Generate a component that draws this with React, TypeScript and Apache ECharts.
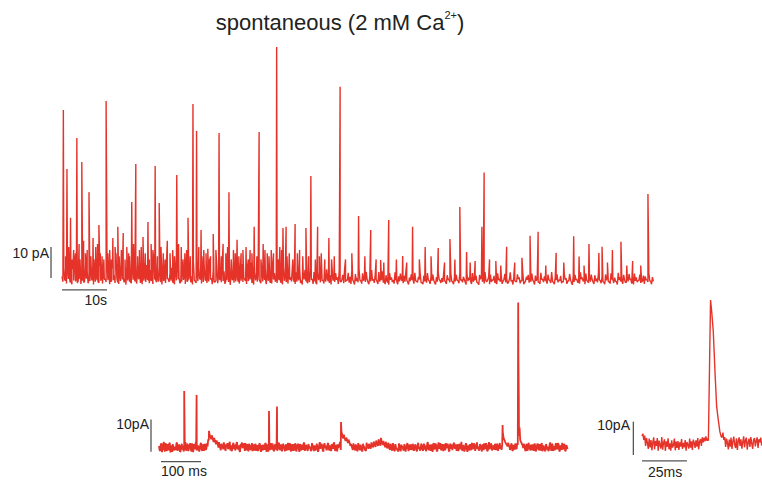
import React, { useEffect, useRef } from "react";
import * as echarts from "echarts";

// ---------- top trace: 0..131.3 s (pA). High samples at i*0.4 s, low samples at i*0.4+0.2 s ----------
const TOP_DT = 0.4;
const topNoise = [
  0.5,3.2,-0.8,4.1,1.2,-1.1,2.8,5.3,0.2,-0.9,3.6,1.4,-1.3,4.8,2.1,0.0,5.6,-0.7,2.4,1.1,
  -1.2,3.9,0.6,2.7,-0.4,6.1,1.8,-1.0,3.1,0.9,4.4,-1.4,2.2,5.0,0.3,-0.6,3.4,1.6,-1.2,4.6,
  2.0,-0.3,5.2,0.8,-1.1,3.0,1.9,4.2,-0.9,2.6,0.4,5.8,-0.5,1.3,3.7,-1.3,2.9,0.7,4.9,-0.2,
  1.5,3.3,-1.0,2.5,6.0,0.1,-1.2,3.8,1.0,4.3,-0.7,2.3,0.5,5.4,-1.1,1.7,3.5,-0.4,2.8,4.0,
  -0.8,1.2,5.1,0.0,2.6,-1.3,3.9,1.4,-0.6,4.7,2.2,-1.0,3.0,0.6,5.5,-0.3,1.9,3.2,-1.2,2.4,
  4.5,0.2,-0.9,3.6,1.1,5.0,-0.5,2.0,0.8,4.1,-1.1,2.7,1.3,-0.2,3.4,0.4,-1.3,4.2,1.6,-0.6,
  2.9,0.9,-1.0,3.7,1.2,-0.4,2.5,0.3,4.0,-1.2,1.8,0.6,3.1,-0.8,1.4,2.6,-1.1,0.7,3.5,-0.3,
  1.9,-1.4,2.2,0.5,3.3,-0.7,1.1,2.8,-1.0,0.9,3.6,-0.5,1.6,0.2,2.4,-1.3,1.0,3.0,-0.6,1.7,
  0.4,2.3,-1.2,1.3,0.0,2.9,-0.9,1.5,0.6,2.0,-1.4,0.8,2.6,-0.4,1.2,-1.1,1.9,0.3,2.2,-0.8,
  0.9,-1.5,1.6,0.2,-0.7,1.8,-1.2,0.5,1.4,-0.9,0.7,1.9,-1.3,0.1,1.2,-0.6,1.7,-1.1,0.4,1.3,
  -1.4,0.8,-0.3,1.6,-1.0,0.6,1.1,-1.5,0.3,1.8,-0.8,0.0,1.4,-1.2,0.9,-0.4,1.5,-1.3,0.2,1.0,
  -0.9,1.7,-0.5,0.4,-1.4,1.2,0.1,-1.1,1.6,-0.3,0.8,-1.5,1.0,0.5,-0.8,1.9,-1.2,0.3,1.1,-0.6,
  0.7,-1.3,1.5,-0.2,0.9,-1.0,1.3,0.0,-1.4,1.8,-0.7,0.6,-1.1,1.2,0.2,-0.9,1.6,-1.5,0.4,1.0,
  -0.5,1.4,-1.2,0.8,0.1,-1.3,1.7,-0.4,0.5,-1.0,1.1,-0.8,1.9,-1.4,0.3,1.2,-0.6,0.7,-1.1,1.5,
  0.0,-0.9,1.3,-1.5,0.6,1.0,-0.3,-1.2,1.8,0.2,-0.7,1.4,-1.0,0.5,1.1,-1.3,0.9,-0.2,1.6,-0.8,
  0.4,-1.4,1.2,0.7,-1.1,1.5,-0.5,0.1,-1.2,1.7,0.3,-0.8,1.0,-1.5,0.6,1.3,-0.4,-1.0,1.4,0.2,
  -0.9,1.1,-1.3,0.8,0.5,-0.6,1.6,-1.1,0.3,
];
const topLo = [
  -1.2,-0.6,-1.8,-0.3,-1.4,-2.0,-0.8,-1.1,-1.6,-0.4,-1.9,-0.9,-1.3,-0.2,-1.7,-1.0,-0.5,-2.1,-1.2,-0.7,
  -1.5,-0.9,-1.8,-0.4,-1.3,-0.6,-2.0,-1.1,-0.7,-1.6,-0.3,-1.9,-1.0,-0.5,-1.4,-2.2,-0.8,-1.2,-1.7,-0.6,
  -1.1,-1.8,-0.4,-1.5,-2.0,-0.9,-1.3,-0.6,-1.7,-1.0,-1.9,-0.5,-1.4,-1.2,-0.7,-2.1,-1.0,-1.6,-0.3,-1.3,
  -0.9,-1.5,-2.0,-0.8,-0.4,-1.7,-1.1,-0.6,-1.9,-1.2,-0.5,-1.4,-2.1,-0.7,-1.6,-1.0,-0.3,-1.8,-1.3,-0.6,
  -1.6,-1.1,-0.5,-2.0,-1.2,-0.8,-1.7,-0.4,-1.4,-1.0,-1.9,-0.6,-1.3,-2.2,-0.7,-1.5,-1.1,-0.4,-1.8,-0.9,
  -1.3,-0.6,-1.9,-1.0,-0.5,-1.6,-2.1,-0.8,-1.2,-0.4,-1.7,-1.1,-0.6,-2.0,-0.9,-1.4,-1.8,-0.5,-1.2,-1.6,
  -0.7,-1.5,-2.0,-0.9,-1.3,-1.8,-0.6,-1.1,-0.4,-1.9,-1.2,-0.8,-1.6,-2.1,-0.5,-1.0,-1.7,-1.3,-0.6,-1.9,
  -1.1,-2.0,-0.7,-1.4,-0.9,-1.8,-1.2,-0.5,-1.6,-2.1,-0.8,-1.3,-0.6,-1.9,-1.0,-0.4,-1.7,-1.2,-0.8,-1.5,
  -1.9,-0.6,-2.1,-1.0,-1.4,-0.7,-1.8,-0.9,-1.3,-0.5,-2.0,-1.1,-0.8,-1.6,-0.4,-1.9,-1.2,-0.7,-1.5,-2.0,
  -1.0,-2.2,-0.6,-1.3,-1.8,-0.8,-2.0,-1.1,-0.5,-1.7,-1.2,-0.7,-2.1,-1.0,-0.6,-1.8,-0.9,-1.4,-0.5,-1.6,
  -2.0,-1.1,-1.5,-0.6,-1.9,-0.9,-0.7,-2.1,-1.2,-0.5,-1.6,-1.3,-0.8,-1.9,-0.6,-1.4,-1.0,-2.0,-1.1,-0.7,
  -1.7,-0.8,-1.4,-0.5,-2.1,-1.0,-0.6,-1.9,-1.2,-0.7,-1.5,-2.2,-0.4,-1.1,-1.8,-0.9,-0.6,-2.0,-1.3,-0.8,
  -1.6,-2.0,-0.7,-1.2,-1.9,-0.5,-1.4,-1.8,-0.6,-1.1,-2.1,-0.8,-1.3,-0.4,-1.7,-0.9,-2.0,-1.0,-0.6,-1.5,
  -1.2,-0.6,-2.1,-0.9,-1.4,-1.9,-0.5,-1.3,-0.8,-1.8,-0.6,-1.6,-1.1,-2.0,-0.7,-1.4,-0.9,-1.7,-1.2,-0.5,
  -1.9,-1.0,-0.6,-2.2,-1.3,-0.7,-1.5,-1.8,-0.4,-1.1,-2.0,-0.8,-1.6,-1.2,-0.5,-1.9,-1.0,-1.4,-0.6,-1.7,
  -1.1,-2.0,-0.8,-1.3,-1.8,-0.5,-1.6,-1.0,-2.1,-0.7,-1.2,-1.9,-0.6,-1.4,-1.1,-0.5,-1.8,-2.0,-0.9,-1.3,
  -0.7,-1.6,-1.0,-1.9,-0.6,-1.3,-0.8,-2.0,-1.1,
];
// [time s, amplitude pA]
const topSpikes = [
  [0.3,54.2],[1.1,35.2],[1.9,19.4],[3.3,45.2],[4.4,37.4],[6.0,27.7],[6.9,12.9],[8.2,17.1],
  [9.8,57.1],[11.3,12.9],[12.4,16.5],[13.6,14.5],[15.5,24.5],[16.4,36.8],[18.0,13.2],[19.1,18.1],
  [20.7,36.1],[21.6,24.2],[25.5,33.2],[28.0,19.4],[29.1,56.1],[29.9,47.4],[30.9,15.5],[32.4,9.4],
  [33.6,14.2],[34.9,46.8],[37.1,27.7],[38.9,12.3],[42.7,16.5],[43.8,47.1],[47.7,74.5],[49.1,16.1],
  [49.8,16.5],[51.8,17.4],[54.2,16.1],[55.3,32.9],[56.8,16.5],[59.3,12.9],[61.8,61.7],[65.9,20.0],
  [68.6,15.5],[70.8,5.8],[72.6,18.7],[75.7,7.1],[77.9,16.5],[80.7,10.0],[83.6,9.7],[86.2,12.6],
  [88.4,22.9],[89.9,8.4],[91.8,5.5],[93.3,16.5],[93.8,34.0],[96.4,5.5],[98.8,10.1],[102.2,6.5],
  [104.0,13.6],[105.8,14.9],[109.8,8.1],[113.7,13.5],[114.9,6.9],[117.1,11.0],[119.3,8.1],[120.0,10.1],
  [122.3,9.0],[124.2,11.7],[126.8,5.5],[130.2,27.1],
];
const topSmallEvents = [
  [2.6,9],[3.8,11],[5.2,8],[7.5,10],[8.9,7],[10.6,9],[12.0,8],[14.4,10],[15.0,7],[17.2,9],
  [19.8,11],[22.5,8],[23.4,12],[24.6,9],[26.5,10],[27.3,8],[31.5,9],[33.0,7],[35.8,11],[36.4,8],
  [38.1,9],[39.8,8],[40.9,10],[41.8,9],[44.7,11],[45.6,8],[46.5,9],[48.4,10],[50.5,8],[52.8,9],
  [53.5,7],[57.6,8],[58.4,6],[60.5,7],[63.0,6],[64.4,8],[67.3,7],[69.8,6],[71.5,5],[74.3,6],
  [76.6,5],[79.4,6],[82.0,7],[85.0,5],[87.3,6],[90.7,5],[95.0,6],[97.5,4],[100.6,5],[107.5,4],
  [111.5,5],[116.0,4],[121.2,5],[125.5,4],[128.6,4],
  [0.8,7],[1.5,10],[2.2,6],[3.0,8],[4.0,6],[4.8,12],[5.6,9],[6.4,7],[7.1,6],[7.9,11],
  [8.5,8],[9.3,6],[10.2,8],[11.0,6],[11.8,10],[12.7,7],[13.2,9],[14.0,6],[14.8,8],[15.9,11],
  [16.8,7],[17.6,10],[18.5,8],[19.4,6],[20.2,9],[21.2,7],[22.0,10],[22.9,6],[24.0,8],[25.0,7],
  [25.9,11],[26.9,6],[27.7,9],[28.5,7],[30.4,10],[31.1,7],[32.0,8],[32.8,6],[34.2,9],[35.4,7],
  [36.8,10],[37.6,6],[38.5,8],[39.3,7],[40.2,9],[41.4,6],[42.2,8],[43.3,7],[44.2,6],[45.1,9],
  [46.0,7],[47.0,8],[48.0,6],[48.8,9],[50.0,7],[51.3,6],[52.3,8],[54.8,7],[56.3,6],[57.2,7],
  [59.9,6],
];

// ---------- middle trace: 0..1021.5 ms (pA). Samples at i*3 ms and i*3+1.5 ms ----------
const MID_DT = 3;
const midNoise = [
  0.3,-1.2,1.1,-0.5,1.6,-1.4,0.2,0.9,-1.0,1.3,-0.3,-1.5,0.8,0.1,-0.9,1.4,-0.6,0.5,-1.3,1.0,
  0.4,-0.8,1.5,-1.1,0.7,-0.2,1.2,-1.4,0.3,0.9,-0.7,1.7,-1.0,0.6,-0.4,1.3,-1.2,0.8,0.0,-0.9,
  1.1,2.4,4.2,3.1,3.6,2.2,2.8,1.6,2.0,0.9,1.5,-0.3,1.0,0.2,1.4,-0.6,0.8,1.2,-0.4,1.6,
  0.5,-0.9,1.3,0.7,-0.2,1.5,0.1,-1.1,0.9,1.4,-0.5,0.6,1.2,-1.0,0.3,1.0,-0.7,0.4,-1.3,0.8,
  0.0,-1.2,0.6,-0.4,1.1,-1.5,0.2,0.7,-0.9,1.0,-0.3,-1.4,0.5,1.2,-0.8,0.3,-1.1,0.9,0.4,-0.6,
  1.3,-1.0,0.5,-0.2,1.1,-1.3,0.8,0.0,-0.7,1.2,-1.4,0.4,0.9,-1.1,0.6,-0.3,1.0,-1.5,0.2,0.7,
  -0.9,1.4,-0.4,0.3,-1.2,1.0,0.1,-0.8,1.3,-1.3,0.6,-0.1,0.9,-1.0,1.5,-0.6,0.2,-1.4,1.1,0.4,
  -0.7,1.2,-1.1,0.5,0.9,-0.5,1.4,-1.2,0.3,0.8,-0.2,1.6,5.0,3.2,3.8,2.4,2.9,1.8,2.3,1.1,
  0.9,-0.3,1.1,-0.6,0.8,-1.0,1.2,-0.5,0.7,-1.1,1.0,0.0,-0.8,1.3,0.2,1.0,-0.1,1.4,0.5,1.7,
  0.6,2.0,0.9,2.4,1.0,2.8,1.2,1.9,0.5,1.6,-0.2,1.3,-0.6,1.0,-0.9,1.2,-1.0,0.9,-0.4,-1.1,
  1.1,-0.8,0.7,0.2,-1.1,0.9,-0.3,1.2,-1.3,0.4,0.8,-0.9,1.0,-0.5,0.3,-1.4,1.3,0.1,-0.7,0.6,
  -1.2,1.0,0.4,-0.6,1.5,-1.0,0.2,0.8,-1.5,1.1,-0.2,0.5,-1.1,1.4,0.0,-0.8,0.9,-1.3,0.6,1.2,
  -0.5,0.3,-1.4,1.0,0.7,-0.9,1.3,-0.3,-1.2,0.8,0.2,-0.7,1.6,-1.1,0.5,-0.4,1.1,-1.5,0.4,0.9,
  -1.0,1.2,-0.2,0.6,-1.3,1.4,0.1,-0.8,0.9,-1.4,0.5,1.1,-0.6,0.3,-1.1,1.5,-0.3,0.8,-1.2,0.2,
  1.0,-0.9,0.6,-1.3,1.2,0.3,0.7,3.2,2.1,1.6,0.9,1.3,0.2,-0.5,0.8,-1.0,0.4,1.1,-0.7,0.6,
  3.5,2.2,1.4,0.5,1.0,-0.8,0.6,-1.2,1.3,-0.4,0.7,-1.0,0.2,1.1,-1.4,0.5,-0.3,0.9,-1.1,1.2,
  -0.6,0.4,-1.3,1.0,0.1,-0.9,1.4,-1.2,0.6,0.3,-1.0,1.1,-0.5,0.8,-1.4,0.2,1.3,-0.7,0.5,-1.1,
  0.7,
];
const midLo = [
  -1.0,0.8,-1.6,0.6,-0.9,1.2,-1.3,-0.4,1.0,-1.7,0.5,0.9,-1.1,-0.6,1.1,-1.2,0.7,-1.5,0.3,-0.8,
  -1.4,0.6,-0.9,1.0,-1.3,0.4,-0.7,1.1,-1.6,-0.2,1.2,-1.1,0.5,-1.4,0.8,-0.9,0.6,-1.2,1.0,-0.5,
  0.2,2.0,3.3,2.4,2.9,1.5,2.0,0.8,1.3,-0.2,0.6,-1.0,0.4,-0.7,0.5,-1.2,0.2,-0.6,0.9,-1.1,
  -1.3,0.7,-0.6,-1.1,1.0,-0.8,0.5,-1.5,0.2,-0.4,1.1,-1.2,-0.3,0.9,-1.4,0.4,-0.9,1.2,-0.5,-1.1,
  1.0,-0.6,-1.3,0.9,-0.7,0.6,-1.1,-0.2,1.2,-1.5,0.8,-0.4,-1.0,0.3,1.1,-1.3,0.5,-0.8,-1.2,1.0,
  -0.5,0.7,-1.4,1.0,-0.6,0.4,-1.1,1.3,-0.9,-0.3,0.8,-1.2,-0.6,1.1,-1.4,0.6,-0.7,0.9,-1.1,-0.2,
  1.1,-1.2,0.6,-0.9,0.9,-0.5,-1.3,1.2,-0.4,0.5,-1.1,1.0,-1.5,0.7,-0.6,1.0,-1.2,0.8,-0.3,-1.0,
  0.9,-0.6,0.5,-1.3,-0.2,1.1,-0.8,0.6,-1.4,-0.3,1.0,-0.9,4.0,2.6,3.0,1.9,2.5,1.2,1.7,0.4,
  0.2,-0.9,0.3,-1.1,0.1,-1.3,0.4,-1.0,-0.2,-1.4,0.2,-0.8,-1.2,0.4,-0.6,0.3,-0.5,0.6,-0.1,0.8,
  0.0,1.1,0.3,1.5,0.4,1.7,0.6,1.0,-0.1,0.8,-0.4,0.6,-0.9,0.3,-1.1,0.1,-1.3,-0.2,-0.9,-1.4,
  0.3,-1.3,-0.1,-0.8,0.9,-1.4,0.6,-0.5,0.7,-0.9,-0.4,1.0,-1.2,0.8,-1.0,0.5,-0.6,-1.1,1.0,-0.7,
  0.6,-0.8,-1.3,1.0,-0.6,0.7,-1.2,-0.3,0.9,-0.8,1.1,-1.4,0.4,-0.5,1.2,-1.0,-0.2,0.8,-1.1,-0.4,
  1.0,-1.2,0.7,-0.6,-1.0,1.1,-0.5,0.8,0.4,-1.3,1.0,-0.2,-0.9,0.6,-1.4,0.9,-0.8,0.5,-1.1,-0.3,
  0.9,-0.7,1.1,-1.2,0.6,-0.6,-1.1,0.9,-0.5,0.7,-1.0,-0.3,1.2,-1.3,0.6,-0.7,1.0,-1.1,0.4,-0.9,
  -0.3,1.0,-1.2,0.5,-0.6,-0.9,4.5,2.4,1.5,0.8,0.2,0.5,-0.9,1.0,-1.2,0.6,-0.8,-0.2,1.1,28.0,
  6.0,1.6,0.8,-0.3,0.4,-1.3,0.9,-0.6,0.2,-1.1,-0.5,0.8,-1.2,0.3,-0.7,1.1,-1.0,-0.4,0.7,-1.3,
  0.5,-1.1,0.9,-0.8,-1.3,0.7,-0.4,1.0,-1.2,-0.6,0.9,-0.7,1.2,-1.1,0.4,-0.9,-0.5,1.0,-1.3,0.6,
  -0.6,
];
// [time ms, amplitude pA]
const midSpikes = [
  [63,17.3],[94,16.1],[125,5.0],[275,11.1],[295,12.5],[455,7.7],[859,6.8],[898,44.7],[899.5,16],
];

// ---------- right trace: single event, 0..66.5 ms (pA) ----------
const RIGHT_DT = 0.5;
const rightPre = [
  2.4,3.1,1.2,2.5,-0.6,1.8,0.3,-1.5,1.6,-1.0,1.2,-1.9,0.5,2.0,-1.6,0.9,-0.6,1.8,-2.0,1.0,
  -0.3,-1.4,2.1,-1.7,0.4,1.4,-2.1,0.8,-0.9,1.7,-1.6,0.2,-2.0,1.1,-1.1,-0.3,1.6,-1.9,0.7,-1.2,
  0.9,-1.8,0.5,-0.8,1.5,-1.5,0.3,-1.0,1.2,-2.0,0.6,-0.2,-1.4,1.6,-1.1,0.8,-1.8,1.3,0.4,-1.2,
  1.1,-0.8,1.8,-1.6,0.7,1.5,-0.6,2.0,0.5,1.9,0.8,2.3,1.0,1.6,
];
const rightEvent = [
  [36.9,1.0],[37.5,22],[38.1,43.2],[38.7,40],[39.6,34],[40.6,21.3],[41.5,11.2],[42.4,7.2],[43.3,3.7],[44.0,2.2],
];
const RIGHT_POST_START = 44.5;
const rightPost = [
  2.0,3.4,1.2,2.1,-0.9,1.6,0.3,-1.6,1.3,-0.8,1.9,-1.5,0.7,2.2,-0.2,-1.2,1.7,-1.8,0.9,2.0,
  -0.6,1.4,-1.4,0.5,2.3,-1.0,1.1,1.9,-1.7,0.4,1.6,-0.9,2.1,0.2,-1.5,1.2,1.8,-0.7,0.9,2.0,
  -1.2,1.4,0.5,1.9,-0.5,
];

// scale bar sizes
const TOP_BAR = { pA: 10, s: 10 };
const MID_BAR = { pA: 10, ms: 100 };
const RIGHT_BAR = { pA: 10, ms: 25 };

const RED = "#e5332a";
const BAR = "#555555";
const FONT = '"Liberation Sans", Arial, Helvetica, sans-serif';

function sampled(noise: number[], dt: number, t0: number) {
  return noise.map((v, i) => [t0 + i * dt, v]);
}
function merge(...parts: number[][][]) {
  return ([] as number[][]).concat(...parts).sort((a, b) => a[0] - b[0]);
}

export default function App() {
  const ref = useRef<HTMLDivElement>(null);
  useEffect(() => {
    if (!ref.current) return;
    const chart = echarts.init(ref.current, undefined, { renderer: "svg" });

    const topData = merge(
      sampled(topNoise, TOP_DT, 0),
      sampled(topLo, TOP_DT, TOP_DT / 2),
      topSpikes,
      topSmallEvents
    );
    const midData = merge(sampled(midNoise, MID_DT, 0), sampled(midLo, MID_DT, MID_DT / 2), midSpikes);
    const rightData = merge(
      sampled(rightPre, RIGHT_DT, 0),
      rightEvent,
      sampled(rightPost, RIGHT_DT, RIGHT_POST_START)
    );

    const traceSeries = (data: number[][], idx: number, width: number) => ({
      type: "line",
      xAxisIndex: idx,
      yAxisIndex: idx,
      data,
      symbol: "none",
      showSymbol: false,
      silent: true,
      lineStyle: { color: RED, width },
      z: 2,
    });
    const barSeries = (data: number[][], idx: number) => ({
      type: "line",
      xAxisIndex: idx,
      yAxisIndex: idx,
      data,
      symbol: "none",
      showSymbol: false,
      silent: true,
      clip: false,
      lineStyle: { color: BAR, width: 1.3 },
      z: 3,
    });

    const label = (text: string, x: number, y: number, align: string) => ({
      type: "text",
      x,
      y,
      silent: true,
      style: { text, align, verticalAlign: "middle", font: `14px ${FONT}`, fill: "#222" },
    });

    chart.setOption({
      animation: false,
      backgroundColor: "#ffffff",
      grid: [
        { left: 48.5, top: 42.4, width: 604.4, height: 254.2 },
        { left: 149, top: 298.4, width: 418.8, height: 174.4 },
        { left: 631.2, top: 294.1, width: 130.8, height: 173.2 },
      ],
      xAxis: [
        { gridIndex: 0, type: "value", min: -3, max: 131.3, show: false },
        { gridIndex: 1, type: "value", min: -25, max: 1022, show: false },
        { gridIndex: 2, type: "value", min: -6, max: 66.7, show: false },
      ],
      yAxis: [
        { gridIndex: 0, type: "value", min: -6, max: 76, show: false },
        { gridIndex: 1, type: "value", min: -8, max: 46, show: false },
        { gridIndex: 2, type: "value", min: -7, max: 45, show: false },
      ],
      series: [
        traceSeries(topData, 0, 1.4),
        traceSeries(midData, 1, 1.8),
        traceSeries(rightData, 2, 1.4),
        barSeries([[-2.44, 0], [-2.44, TOP_BAR.pA]], 0),
        barSeries([[0, -3.8], [TOP_BAR.s, -3.8]], 0),
        barSeries([[-20, -1.5], [-20, -1.5 + MID_BAR.pA]], 1),
        barSeries([[5, -4.55], [5 + MID_BAR.ms, -4.55]], 1),
        barSeries([[-4.8, -3.3], [-4.8, -3.3 + RIGHT_BAR.pA]], 2),
        barSeries([[0, -5.1], [RIGHT_BAR.ms, -5.1]], 2),
      ],
      graphic: [
        {
          type: "text",
          x: 340,
          y: 22,
          silent: true,
          style: {
            text: "{a|spontaneous (2 mM Ca}{s|2+}{a|)}",
            align: "center",
            verticalAlign: "middle",
            fill: "#222",
            rich: {
              a: { fontSize: 22, fontFamily: FONT, lineHeight: 26, fill: "#222" },
              s: { fontSize: 11, fontFamily: FONT, lineHeight: 26, verticalAlign: "top", fill: "#222" },
            },
          },
        },
        label("10 pA", 49, 253, "right"),
        label("10s", 107, 300, "right"),
        label("10pA", 149, 424, "right"),
        label("100 ms", 161, 471, "left"),
        label("10pA", 630, 425, "right"),
        label("25ms", 648, 472, "left"),
      ],
    });
    return () => chart.dispose();
  }, []);
  return (
    <div
      ref={ref}
      style={{ position: "fixed", left: 0, top: 0, width: 762, height: 480, background: "#fff" }}
    />
  );
}
